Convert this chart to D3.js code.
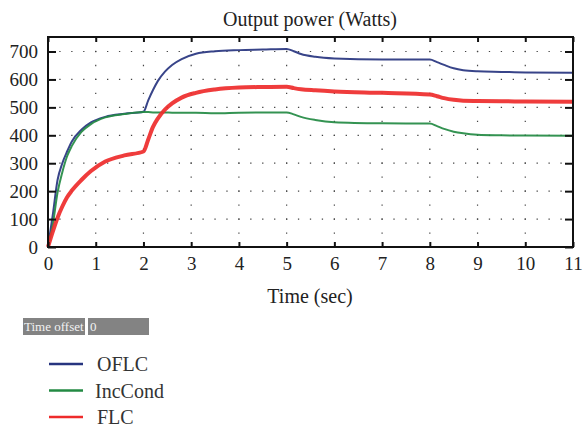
<!DOCTYPE html>
<html>
<head>
<meta charset="utf-8">
<script src="https://cdn.jsdelivr.net/npm/d3@7"></script>
<style>
  body { margin: 0; background: #fff; }
</style>
</head>
<body>
<div id="chart"></div>
<script>
const time    = [0, 0.1, 0.2, 0.3, 0.4, 0.5, 0.7, 0.9, 1.2, 1.6, 2.0, 2.1, 2.2, 2.3, 2.45, 2.6, 2.8, 3.1, 3.5, 4.0, 4.5, 5.0, 5.15, 5.3, 5.6, 6.0, 7.0, 8.0, 8.15, 8.3, 8.5, 8.7, 9.0, 9.5, 10, 11];
const oflc    = [0, 115, 240, 300, 342, 378, 420, 446, 466, 477, 484, 525, 562, 594, 628, 652, 673, 692, 701, 705, 707, 709, 701, 691, 681, 675, 671, 671, 662, 652, 640, 633, 629, 627, 625, 624];
const incCond = [0, 80, 195, 268, 325, 362, 412, 440, 464, 476, 483, 483, 482, 482, 482, 481, 481, 481, 479, 481, 482, 482, 475, 466, 455, 447, 443, 442, 433, 423, 413, 407, 402, 400, 399, 398];
const flc     = [0, 55, 105, 145, 178, 202, 240, 272, 306, 328, 342, 385, 430, 460, 492, 514, 535, 552, 564, 571, 573, 574, 569, 565, 561, 557, 552, 546, 540, 533, 527, 524, 523, 522, 521, 520];

const xTicks = d3.range(0, 12);
const yTicks = d3.range(0, 701, 100);

const series = [
  { name: "OFLC",    values: oflc,    color: "#27347f", width: 2 },
  { name: "IncCond", values: incCond, color: "#238a43", width: 2 },
  { name: "FLC",     values: flc,     color: "#ee2b2b", width: 4 }
];

const width = 583, height = 428;
const plotLeft = 48, plotRight = 573, plotTop = 37, plotBottom = 247;
const serif = "Liberation Serif";

const svg = d3.select("#chart").append("svg")
  .attr("width", width)
  .attr("height", height)
  .attr("font-family", serif);

const x = d3.scaleLinear().domain([0, 11]).range([plotLeft, plotRight]);
const y = d3.scaleLinear().domain([0, 752]).range([plotBottom, plotTop]);

// dotted grid
const g = svg.append("g");
g.selectAll(".hgrid").data(yTicks.slice(1)).enter().append("line")
  .attr("x1", plotLeft).attr("x2", plotRight)
  .attr("y1", d => y(d)).attr("y2", d => y(d))
  .attr("stroke", "#444").attr("stroke-width", 1.2)
  .attr("stroke-dasharray", `1.3,${(x(0.25) - x(0)) - 1.3}`)
  .attr("stroke-dashoffset", 0.65);
g.selectAll(".vgrid").data(xTicks.slice(1, -1)).enter().append("line")
  .attr("x1", d => x(d)).attr("x2", d => x(d))
  .attr("y1", plotBottom).attr("y2", plotTop)
  .attr("stroke", "#444").attr("stroke-width", 1.2)
  .attr("stroke-dasharray", `1.3,${(y(0) - y(50)) - 1.3}`)
  .attr("stroke-dashoffset", 0.65);

// curves
const line = d3.line()
  .x((d, i) => x(time[i]))
  .y(d => y(d))
  .curve(d3.curveMonotoneX);

svg.selectAll(".series").data(series).enter().append("path")
  .attr("d", d => line(d.values))
  .attr("fill", "none")
  .attr("stroke", d => d.color)
  .attr("stroke-width", d => d.width)
  .attr("stroke-linejoin", "round")
  .attr("opacity", 0.92);

// axes with inward ticks
svg.append("g").attr("transform", `translate(0,${plotBottom})`)
  .call(d3.axisBottom(x).tickValues(xTicks).tickSize(-5).tickPadding(10).tickFormat(d3.format("d")))
  .call(a => a.select(".domain").remove());
svg.append("g").attr("transform", `translate(0,${plotTop})`)
  .call(d3.axisTop(x).tickValues(xTicks).tickSize(-5).tickFormat(""))
  .call(a => a.select(".domain").remove());
svg.append("g").attr("transform", `translate(${plotLeft},0)`)
  .call(d3.axisLeft(y).tickValues(yTicks).tickSize(-8).tickPadding(10).tickFormat(d3.format("d")))
  .call(a => a.select(".domain").remove());
svg.append("g").attr("transform", `translate(${plotRight},0)`)
  .call(d3.axisRight(y).tickValues(yTicks).tickSize(-8).tickFormat(""))
  .call(a => a.select(".domain").remove());

svg.selectAll(".tick line").attr("stroke", "#111").attr("stroke-width", 2);
svg.selectAll(".tick text")
  .attr("fill", "#222")
  .attr("font-family", serif)
  .attr("font-size", 19);

// frame
svg.append("rect")
  .attr("x", plotLeft).attr("y", plotTop)
  .attr("width", plotRight - plotLeft).attr("height", plotBottom - plotTop)
  .attr("fill", "none").attr("stroke", "#111").attr("stroke-width", 2);

// titles
svg.append("text").attr("x", 310).attr("y", 26).attr("text-anchor", "middle")
  .attr("fill", "#222").attr("font-size", 20).text("Output power (Watts)");
svg.append("text").attr("x", 310).attr("y", 303).attr("text-anchor", "middle")
  .attr("fill", "#222").attr("font-size", 20).text("Time (sec)");

// "Time offset" box
svg.append("rect").attr("x", 23).attr("y", 318).attr("width", 62).attr("height", 17).attr("fill", "#838383");
svg.append("rect").attr("x", 88).attr("y", 318).attr("width", 61).attr("height", 17).attr("fill", "#838383");
svg.append("text").attr("x", 24).attr("y", 331).attr("fill", "#f2f2f2")
  .attr("font-size", 13).text("Time offset");
svg.append("text").attr("x", 90).attr("y", 331).attr("fill", "#f2f2f2")
  .attr("font-size", 13).text("0");

// legend
const legend = svg.selectAll(".legend").data(series).enter().append("g")
  .attr("transform", (d, i) => `translate(49,${364 + i * 26.5})`);
legend.append("line")
  .attr("x1", 0).attr("x2", 34)
  .attr("stroke", d => d.color).attr("stroke-width", 2.5);
legend.append("text")
  .attr("x", (d, i) => i === 1 ? 46 : 48).attr("y", 7)
  .attr("fill", "#333").attr("font-size", 20)
  .text(d => d.name);
</script>
</body>
</html>
